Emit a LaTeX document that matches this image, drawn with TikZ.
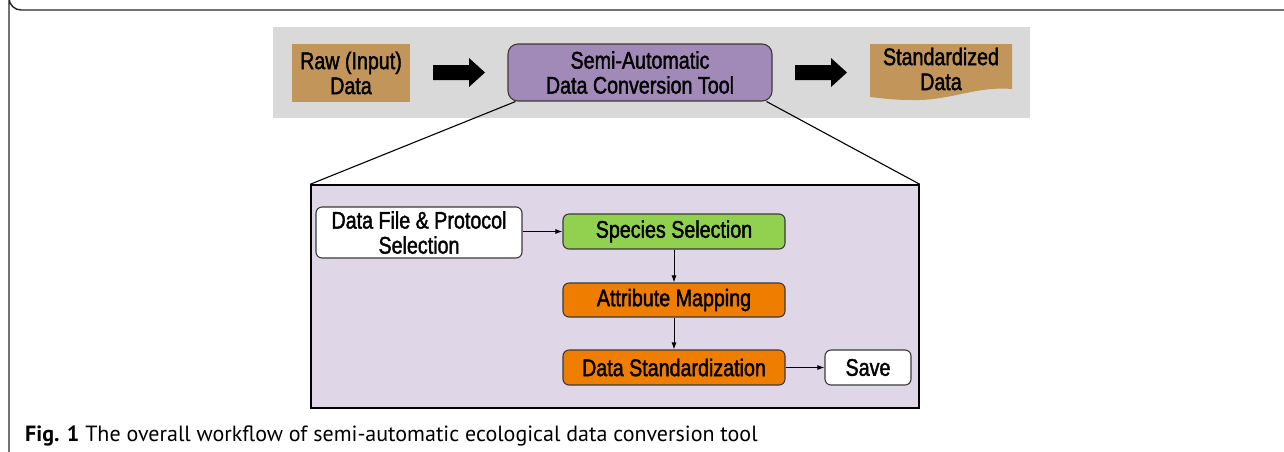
\documentclass[tikz,border=0pt]{standalone}
\usepackage{fontspec}
\usetikzlibrary{arrows.meta}
\newfontfamily\nf{Liberation Sans}[FakeStretch=0.82,FakeBold=1.6]
\newfontfamily\cf{PT Sans}
\definecolor{bandgray}{HTML}{D9D9D9}
\definecolor{tan}{HTML}{C2965A}
\definecolor{purp}{HTML}{A189B8}
\definecolor{lav}{HTML}{DFD7E8}
\definecolor{grn}{HTML}{92D050}
\definecolor{orng}{HTML}{EE7D00}
\definecolor{edge}{HTML}{3A3A3A}
\tikzset{
  lbl/.style={font=\nf\fontsize{24}{25}\selectfont, align=center, inner sep=0pt},
  boxn/.style={draw=edge, line width=1.1pt, rounded corners=6pt, lbl},
  flow/.style={-{Latex[length=7pt,width=5pt]}, line width=1pt, black},
  blockarrow/.style={fill=black},
}
\begin{document}
\begin{tikzpicture}[x=1pt,y=-1pt]
\useasboundingbox (0,0) rectangle (1284,451);
% outer frame
\draw[line width=1.4pt, black!85] (1290,10) -- (21,10) arc[start angle=90,end angle=180,radius=12] -- (9,460);
% gray band
\fill[bandgray] (273,27) rectangle (1030,118);
% raw data
\node[fill=tan, minimum width=118pt, minimum height=58pt, lbl] (raw) at (351,73) {Raw (Input)\\Data};
% block arrows
\fill[blockarrow] (433,65) -- (469,65) -- (469,58) -- (485,72.5) -- (469,87) -- (469,80) -- (433,80) -- cycle;
\fill[blockarrow] (795,65) -- (831,65) -- (831,58) -- (847,72.5) -- (831,87) -- (831,80) -- (795,80) -- cycle;
% tool
\node[fill=purp, draw=edge, line width=1.1pt, rounded corners=10pt, minimum width=264pt, minimum height=57pt, lbl] (tool) at (640,72.5) {Semi-Automatic\\Data Conversion Tool};
% standardized data (document shape)
\fill[tan] (870,44) -- (1012,44) -- (1012,89) .. controls (975,86) and (950,101) .. (912,100) .. controls (893,100) and (880,98) .. (870,97) -- cycle;
\node[lbl] (std) at (941,69) {Standardized\\Data};
% inner box
\node[draw=black, line width=1.5pt, fill=lav, minimum width=608pt, minimum height=223pt, inner sep=0pt] (inner) at (615,296.5) {};
\draw[line width=1.1pt, black] ([xshift=8pt]tool.south west) -- (inner.north west);
\draw[line width=1.1pt, black] ([xshift=-6pt]tool.south east) -- (inner.north east);
% flow nodes
\node[boxn, fill=white, minimum width=206pt, minimum height=51pt] (file) at (419,232.5) {Data File \& Protocol\\Selection};
\node[boxn, fill=grn, minimum width=222pt, minimum height=35pt] (spec) at (674,231.5) {Species Selection};
\node[boxn, fill=orng, minimum width=222pt, minimum height=34pt] (attr) at (674,300) {Attribute Mapping};
\node[boxn, fill=orng, minimum width=222pt, minimum height=35pt] (dstd) at (674,367.5) {Data Standardization};
\node[boxn, fill=white, minimum width=86pt, minimum height=35pt] (save) at (868,367.5) {Save};
\draw[flow] (file.east |- spec) -- (spec.west);
\draw[flow] (spec) -- (attr);
\draw[flow] (attr) -- (dstd);
\draw[flow] (dstd) -- (save);
% caption
\node[anchor=base west, inner sep=0pt, font=\cf\fontsize{22}{24}\selectfont] (cap) at (25,441) {\textbf{Fig. 1} The overall workflow of semi-automatic ecological data conversion tool};
\end{tikzpicture}
\end{document}
